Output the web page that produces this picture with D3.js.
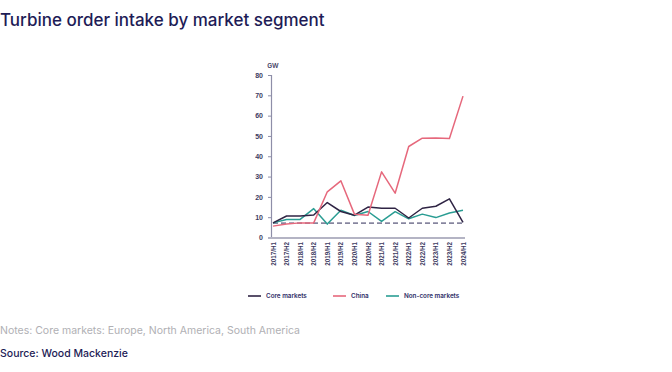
<!DOCTYPE html>
<html>
<head>
<meta charset="utf-8">
<script src="https://cdn.jsdelivr.net/npm/d3@7"></script>
<style>
  body { margin: 0; background: #fff; }
  svg { display: block; font-family: Inter, "Noto Sans", sans-serif; }
</style>
</head>
<body>
<svg id="chart" width="672" height="372"></svg>
<script>
const periods = ['2017/H1', '2017/H2', '2018/H1', '2018/H2', '2019/H1', '2019/H2', '2020/H1', '2020/H2',
  '2021/H1', '2021/H2', '2022/H1', '2022/H2', '2023/H1', '2023/H2', '2024/H1'];
const coreMarkets = [7.2, 10.6, 10.6, 11.1, 17.2, 12.8, 11, 15, 14.4, 14.4, 9.6, 14.4, 15.4, 19, 7.4];
const china = [5.6, 6.6, 7.2, 7.2, 22.5, 27.9, 11.5, 11, 32.3, 21.8, 44.8, 48.9, 49, 48.7, 69.6];
const nonCoreMarkets = [7.2, 8.9, 8.9, 14.2, 6.6, 13.4, 10.8, 12.8, 7.9, 12.7, 9.2, 11.5, 9.8, 12.1, 13.4];
const referenceLevel = 7.1;
const yTicks = [0, 10, 20, 30, 40, 50, 60, 70, 80];

const series = [
  { name: 'Core markets', values: coreMarkets, color: '#2f2444' },
  { name: 'China', values: china, color: '#e6687c' },
  { name: 'Non-core markets', values: nonCoreMarkets, color: '#2a9d93' }
];

const svg = d3.select('#chart');
const navy = '#1e1c56';

const x = d3.scalePoint().domain(periods).range([273, 463]);
const y = d3.scaleLinear().domain([0, 80]).range([237.5, 75]);

// title
svg.append('text')
  .attr('x', 0).attr('y', 26)
  .attr('fill', navy)
  .style('font-size', '17px')
  .style('font-weight', 500)
  .text('Turbine order intake by market segment');

// y axis
const yAxis = svg.append('g')
  .attr('transform', 'translate(271,0)')
  .call(d3.axisLeft(y).tickValues(yTicks).tickSize(3).tickPadding(5));
yAxis.select('.domain').attr('stroke', '#8e8ea8').attr('stroke-width', 1.2);
yAxis.selectAll('.tick line').attr('stroke', '#8e8ea8');
yAxis.selectAll('text').attr('fill', '#3d3b62').style('font-size', '7px').style('font-weight', 600);

svg.append('text')
  .attr('x', 273).attr('y', 68)
  .attr('text-anchor', 'middle')
  .attr('fill', '#3d3b62')
  .style('font-size', '6.5px')
  .style('font-weight', 600)
  .text('GW');

// x axis
const xAxis = svg.append('g')
  .attr('transform', 'translate(0,238)')
  .call(d3.axisBottom(x).tickSize(0).tickPadding(0));
xAxis.select('.domain').attr('stroke', '#b4b4c4').attr('stroke-width', 2)
  .attr('d', 'M268,0H465');
xAxis.selectAll('text')
  .attr('fill', '#3d3b62')
  .style('font-size', '6.3px')
  .style('font-weight', 600)
  .attr('text-anchor', 'end')
  .attr('dy', '0.32em')
  .attr('transform', 'rotate(-90)')
  .attr('x', -4).attr('y', 0);

// reference dashed line
svg.append('line')
  .attr('x1', x(periods[0])).attr('x2', x(periods[periods.length - 1]))
  .attr('y1', y(referenceLevel)).attr('y2', y(referenceLevel))
  .attr('stroke', '#2f2d58')
  .attr('stroke-width', 1)
  .attr('stroke-dasharray', '5,3');

const line = d3.line()
  .x((d, i) => x(periods[i]))
  .y(d => y(d));

[series[2], series[0], series[1]].forEach(s => {
  svg.append('path')
    .datum(s.values)
    .attr('fill', 'none')
    .attr('stroke', s.color)
    .attr('stroke-width', 1.5)
    .attr('stroke-linejoin', 'round')
    .attr('d', line);
});

// legend
const legendX = [248, 333, 386];
series.forEach((s, i) => {
  const g = svg.append('g').attr('transform', `translate(${legendX[i]},296)`);
  g.append('line').attr('x1', 0).attr('x2', 13).attr('y1', 0).attr('y2', 0)
    .attr('stroke', s.color).attr('stroke-width', 1.6);
  g.append('text').attr('x', 18).attr('y', 2.3)
    .attr('fill', '#2e2c66')
    .style('font-size', '6.3px')
    .style('font-weight', 600)
    .text(s.name);
});

// notes and source
svg.append('text')
  .attr('x', 0).attr('y', 334)
  .attr('fill', '#b0b0b4')
  .style('font-size', '10.5px')
  .text('Notes: Core markets: Europe, North America, South America');

svg.append('text')
  .attr('x', 0).attr('y', 357)
  .attr('fill', navy)
  .style('font-size', '10.5px')
  .style('font-weight', 500)
  .text('Source: Wood Mackenzie');
</script>
</body>
</html>
